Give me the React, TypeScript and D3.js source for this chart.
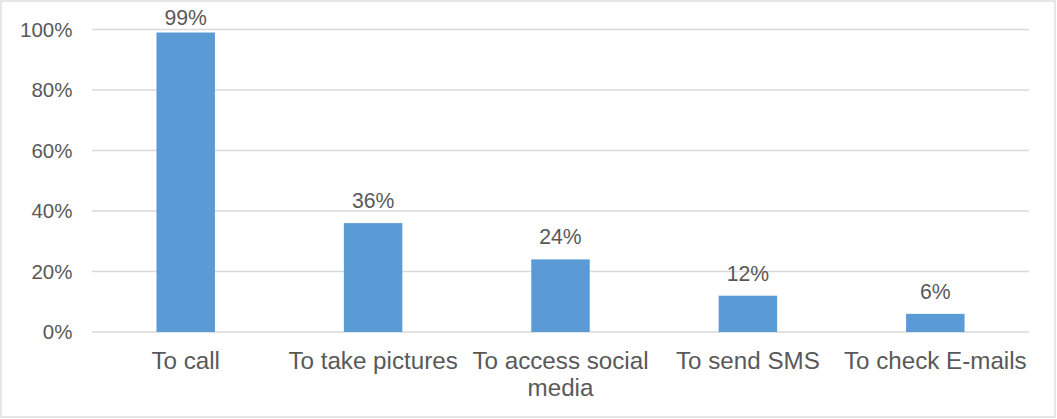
import React from "react";
import * as d3 from "d3";

const categories: string[][] = [
  ["To call"],
  ["To take pictures"],
  ["To access social", "media"],
  ["To send SMS"],
  ["To check E-mails"],
];
const categoryKeys = ["To call", "To take pictures", "To access social media", "To send SMS", "To check E-mails"];
const values = [99, 36, 24, 12, 6];
const yTicks = [0, 20, 40, 60, 80, 100];

const W = 1057;
const H = 419;
const plot = { left: 92, right: 1029, top: 29.5, bottom: 332 };
const FONT = "'Liberation Sans', Arial, sans-serif";
const TEXT = "#595959";
const GRID = "#D9D9D9";
const BAR = "#5B9BD5";

export default function App() {
  const x = d3
    .scaleBand<string>()
    .domain(categoryKeys)
    .range([plot.left, plot.right])
    .paddingInner(0.688)
    .paddingOuter(0.344);
  const y = d3.scaleLinear().domain([0, 100]).range([plot.bottom, plot.top]);

  return (
    <svg width={W} height={H} style={{ position: "absolute", left: 0, top: 0, background: "#fff" }}>
      <rect x={1} y={1} width={W - 3} height={H - 3} fill="#fff" stroke={GRID} strokeWidth={1.3} />
      {yTicks.map((t) => (
        <g key={t}>
          <line x1={plot.left} x2={plot.right} y1={y(t)} y2={y(t)} stroke={GRID} strokeWidth={1.3} />
          <text x={72.5} y={y(t)} dy="0.35em" textAnchor="end" fontFamily={FONT} fontSize={20.5} fill={TEXT}>
            {t}%
          </text>
        </g>
      ))}
      {values.map((v, i) => {
        const k = categoryKeys[i];
        const bx = x(k)!;
        const top = y(v);
        const cx = bx + x.bandwidth() / 2;
        return (
          <g key={k}>
            <rect x={bx} y={top} width={x.bandwidth()} height={plot.bottom - top} fill={BAR} />
            <text x={cx} y={Math.max(top - 15, 25)} textAnchor="middle" fontFamily={FONT} fontSize={21.2} fill={TEXT}>
              {v}%
            </text>
          </g>
        );
      })}
      {categories.map((lines, i) => {
        const cx = x(categoryKeys[i])! + x.bandwidth() / 2;
        return (
          <text key={i} x={cx} y={369} textAnchor="middle" fontFamily={FONT} fontSize={24.2} fill={TEXT}>
            {lines.map((l, j) => (
              <tspan key={j} x={cx} dy={j === 0 ? 0 : 26.5}>
                {l}
              </tspan>
            ))}
          </text>
        );
      })}
    </svg>
  );
}
